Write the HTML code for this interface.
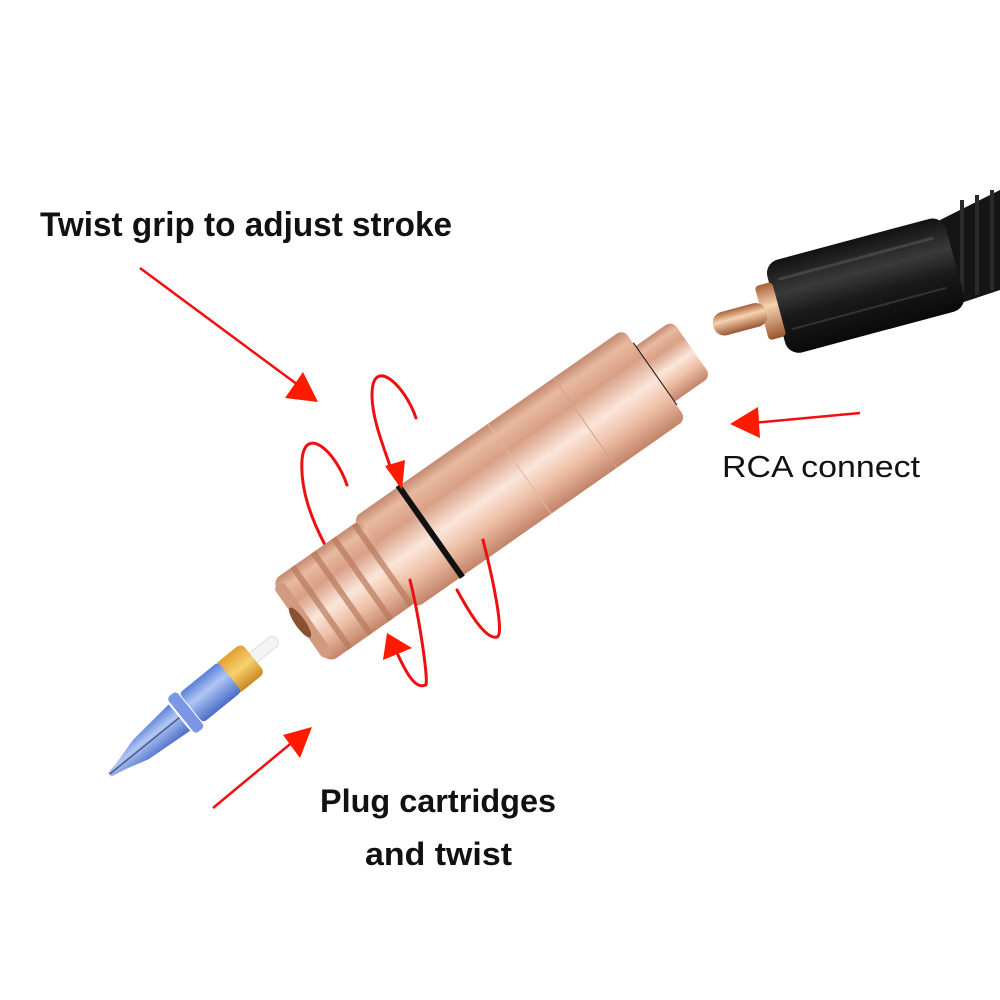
<!DOCTYPE html>
<html><head><meta charset="utf-8"><style>
html,body{margin:0;padding:0;background:#fff;}
svg{display:block;}
</style></head><body>
<svg width="1000" height="1000" viewBox="0 0 1000 1000" xmlns="http://www.w3.org/2000/svg">
<defs>
<linearGradient id="cu" x1="0" y1="0" x2="0" y2="1">
<stop offset="0" stop-color="#c48a70"/>
<stop offset="0.12" stop-color="#e8b9a0"/>
<stop offset="0.3" stop-color="#d9a087"/>
<stop offset="0.55" stop-color="#fbe6da"/>
<stop offset="0.75" stop-color="#eec0a8"/>
<stop offset="1" stop-color="#c28468"/>
</linearGradient>
<linearGradient id="blk" x1="0" y1="0" x2="0" y2="1">
<stop offset="0" stop-color="#111"/>
<stop offset="0.35" stop-color="#3a3a3a"/>
<stop offset="0.6" stop-color="#1a1a1a"/>
<stop offset="1" stop-color="#0a0a0a"/>
</linearGradient>
<linearGradient id="gold" x1="0" y1="0" x2="0" y2="1">
<stop offset="0" stop-color="#a8623a"/>
<stop offset="0.4" stop-color="#f6d2b0"/>
<stop offset="1" stop-color="#9a5530"/>
</linearGradient>
<linearGradient id="blue" x1="0" y1="0" x2="0" y2="1">
<stop offset="0" stop-color="#5a7fd8"/>
<stop offset="0.4" stop-color="#b0c6f4"/>
<stop offset="1" stop-color="#4a6cc8"/>
</linearGradient>
<linearGradient id="orng" x1="0" y1="0" x2="0" y2="1">
<stop offset="0" stop-color="#e0a030"/>
<stop offset="0.5" stop-color="#f8d070"/>
<stop offset="1" stop-color="#c88a20"/>
</linearGradient>
</defs>

<text x="40" y="236" font-family="Liberation Sans, sans-serif" font-weight="bold" font-size="34" fill="#111" textLength="412" lengthAdjust="spacingAndGlyphs">Twist grip to adjust stroke</text>
<text x="722" y="477" font-family="Liberation Sans, sans-serif" font-size="31" fill="#111" textLength="198" lengthAdjust="spacingAndGlyphs">RCA connect</text>
<text x="320" y="812" font-family="Liberation Sans, sans-serif" font-weight="bold" font-size="32" fill="#111" textLength="236" lengthAdjust="spacingAndGlyphs">Plug cartridges</text>
<text x="365" y="865" font-family="Liberation Sans, sans-serif" font-weight="bold" font-size="32" fill="#111" textLength="147" lengthAdjust="spacingAndGlyphs">and twist</text>

<line x1="140" y1="268" x2="298" y2="385" stroke="#f01010" stroke-width="2.5"/>
<polygon points="285,398 303,372 318,402" fill="#ff1a00"/>
<line x1="860" y1="413" x2="752" y2="423" stroke="#f01010" stroke-width="2.5"/>
<polygon points="730,424 758,407 760,438" fill="#ff1a00"/>
<line x1="213" y1="808" x2="295" y2="740" stroke="#f01010" stroke-width="2.5"/>
<polygon points="312,727 283,735 300,758" fill="#ff1a00"/>

<path d="M940,220 L1000,190 L1000,290 L955,305 Z" fill="#151515"/>
<g fill="#2a2a2a"><rect x="960" y="200" width="4" height="100"/><rect x="975" y="195" width="4" height="100"/><rect x="990" y="190" width="4" height="100"/></g>
<g transform="translate(868,285) rotate(-15)">
<rect x="-95" y="-48" width="185" height="96" rx="14" fill="url(#blk)"/>
<rect x="-85" y="-30" width="160" height="3" fill="#444"/>
<rect x="-85" y="22" width="160" height="2" fill="#333"/>
<rect x="-110" y="-28" width="18" height="56" rx="4" fill="url(#gold)"/>
<rect x="-160" y="-12" width="55" height="24" rx="11" fill="url(#gold)"/>
</g>

<g fill="none" stroke="#ee1010" stroke-width="3" stroke-linecap="round">
<path d="M347,485 C335,450 305,425 302,460 C300,490 312,520 325,545"/>
<path d="M416,418 C405,385 372,355 372,395 C372,420 385,450 392,472"/>
</g>

<g transform="translate(495,486) rotate(-35)">
<rect x="185" y="-34" width="55" height="68" rx="8" fill="url(#cu)"/>
<rect x="190" y="-38" width="6" height="76" fill="#111"/>
<rect x="-135" y="-55" width="330" height="110" rx="8" fill="url(#cu)"/>
<line x1="110" y1="-55" x2="110" y2="55" stroke="#d4a088" stroke-width="1"/>
<line x1="30" y1="-55" x2="30" y2="55" stroke="#e2b8a0" stroke-width="1"/>
<rect x="-82" y="-56" width="6" height="112" fill="#111"/>
<rect x="-238" y="-50" width="108" height="100" rx="10" fill="url(#cu)"/>
<g fill="#b87a5c" opacity="0.7">
<rect x="-215" y="-50" width="6" height="100"/>
<rect x="-190" y="-50" width="6" height="100"/>
<rect x="-165" y="-50" width="6" height="100"/>
<rect x="-140" y="-50" width="6" height="100"/>
</g>
<rect x="-240" y="-44" width="12" height="88" rx="5" fill="#d29a7e"/>
<ellipse cx="-238" cy="0" rx="5" ry="18" fill="#8a5030"/>
</g>

<g fill="none" stroke="#ee1010" stroke-width="3" stroke-linecap="round">
<path d="M410,580 C420,620 430,690 425,685 C415,690 405,670 398,655"/>
<path d="M483,540 C492,575 505,635 497,637 C485,640 468,610 457,590"/>
</g>
<polygon points="385,466 405,460 402,490" fill="#ff1a00"/>
<polygon points="387,633 412,648 383,660" fill="#ff1a00"/>

<g transform="translate(195,705) rotate(-39)">
<rect x="70" y="-6" width="35" height="12" rx="5" fill="#f4f4f4" stroke="#ddd"/>
<rect x="40" y="-19" width="35" height="38" rx="6" fill="url(#orng)"/>
<rect x="-5" y="-19" width="50" height="38" rx="4" fill="url(#blue)"/>
<rect x="-18" y="-23" width="12" height="46" rx="4" fill="#7a96e4"/>
<path d="M-20,-17 L-70,-12 L-95,-5 L-110,-2 L-110,3 L-95,6 L-70,13 L-20,17 Z" fill="url(#blue)"/>
<line x1="-110" y1="0" x2="-20" y2="0" stroke="#4a5a80" stroke-width="1.5"/>
</g>
</svg>
</body></html>
